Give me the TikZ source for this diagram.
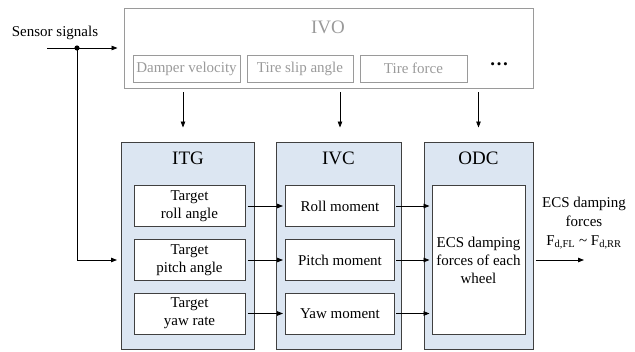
\documentclass[tikz,border=0pt]{standalone}
\usepackage{fontspec}
\setmainfont{Liberation Serif}
\usepackage{tikz}
\usetikzlibrary{arrows.meta}

\definecolor{blockfill}{HTML}{DCE6F2}
\definecolor{blockline}{HTML}{404040}
\definecolor{ivogray}{HTML}{9A9A9A}

\tikzset{
    blockbox/.style={draw=blockline, fill=blockfill, line width=1pt},
    innerbox/.style={draw=blockline, fill=white, line width=1pt, align=center,
        inner sep=0pt, font=\fontsize{15}{18}\selectfont},
    ivobox/.style={draw=ivogray, line width=1pt, inner sep=0pt, text=ivogray,
        font=\fontsize{15}{18}\selectfont},
    titletext/.style={font=\fontsize{19}{22}\selectfont},
    sig/.style={line width=0.8pt, -{Triangle[length=6pt,width=4.5pt]}},
}

\begin{document}
\begin{tikzpicture}[x=1pt, y=-1pt]
    \useasboundingbox (0,0) rectangle (635,351);
    % IVO block
    \node [ivobox, minimum width=409pt, minimum height=80pt] (ivo) at (328.5,48) {};
    \node [titletext, text=ivogray] (ivotitle) at (328,27) {IVO};
    \node [ivobox, minimum width=107pt, minimum height=27pt] (dv) at (186.5,68.5) {Damper velocity};
    \node [ivobox, minimum width=106pt, minimum height=27pt] (tsa) at (300,68.5) {Tire slip angle};
    \node [ivobox, minimum width=107pt, minimum height=27pt] (tf) at (413.5,68.5) {Tire force};
    \node (dots) at (499,64) {\fontsize{19}{20}\selectfont\textbf{\dots}};
    % lower blocks
    \node [blockbox, minimum width=133pt, minimum height=207pt] (itg) at (188,245.5) {};
    \node [blockbox, minimum width=125pt, minimum height=207pt] (ivc) at (338.5,245.5) {};
    \node [blockbox, minimum width=109pt, minimum height=207pt] (odc) at (478.5,245.5) {};
    \node [titletext] (itgtitle) at (188,158) {ITG};
    \node [titletext] (ivctitle) at (338.5,158) {IVC};
    \node [titletext] (odctitle) at (478.5,158) {ODC};
    % targets and moments
    \foreach \i/\y/\tgt/\mom in {1/206/roll angle/Roll moment,
                                 2/260/pitch angle/Pitch moment,
                                 3/313.5/yaw rate/Yaw moment} {%
        \node [innerbox, minimum width=111pt, minimum height=41pt] (tg\i) at (189.5,\y) {Target\\\tgt};
        \node [innerbox, minimum width=109pt, minimum height=41pt] (mo\i) at (340,\y) {\mom};
    }
    \node [innerbox, minimum width=93pt, minimum height=149pt] (dist) at (478.5,260)
        {ECS damping\\forces of each\\wheel};
    % links between blocks
    \foreach \i in {1,2,3} {%
        \draw [sig, shorten <=2pt, shorten >=2pt] (tg\i.east) -- (mo\i.west);
        \draw [sig, shorten <=1pt, shorten >=2pt] (mo\i.east) -- (mo\i.east -| dist.west);
    }
    % IVO outputs
    \coordinate (o1) at (183,88);
    \coordinate (o2) at (340,88);
    \coordinate (o3) at (478.5,88);
    \draw [sig, shorten <=4pt, shorten >=14pt] (o1) -- (o1 |- itg.north);
    \draw [sig, shorten <=4pt, shorten >=14pt] (o2) -- (o2 |- ivc.north);
    \draw [sig, shorten <=4pt, shorten >=14pt] (o3) -- (o3 |- odc.north);
    % sensor signals
    \node [font=\fontsize{15}{18}\selectfont] (sensor) at (55,33) {Sensor signals};
    \coordinate (sin) at (47,48);
    \coordinate (split) at (77,48);
    \draw [sig, shorten >=6pt] (sin) -- (sin -| ivo.west);
    \fill (split) circle [radius=2.6pt];
    \draw [sig, shorten >=4pt] (split) |- (tg2.west -| itg.west);
    % output
    \coordinate (out) at (584,260);
    \draw [sig, shorten <=10pt] (dist.east) -- (out);
    \node [align=center, font=\fontsize{15}{19}\selectfont] (outtext) at (584,223)
        {ECS damping\\forces\\F\textsubscript{d,FL} \textasciitilde{} F\textsubscript{d,RR}};
\end{tikzpicture}
\end{document}
